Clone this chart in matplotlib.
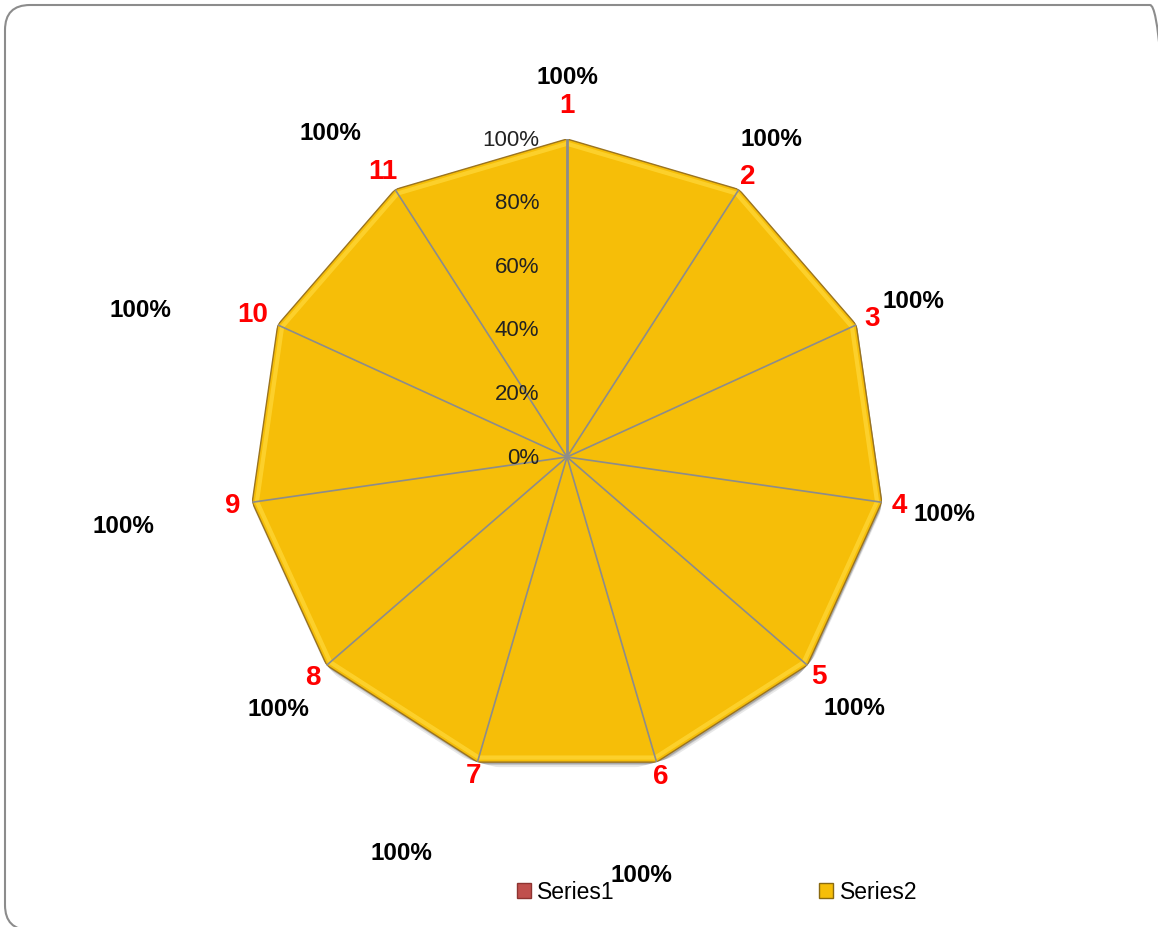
import numpy as np
import matplotlib.pyplot as plt
from matplotlib.patches import Patch, FancyBboxPatch
from matplotlib.transforms import offset_copy, IdentityTransform

# data
categories = ['1', '2', '3', '4', '5', '6', '7', '8', '9', '10', '11']
series1 = [1.0] * 11
series2 = [1.0] * 11
rticks = [0, 0.2, 0.4, 0.6, 0.8, 1.0]
rtick_labels = ['0%', '20%', '40%', '60%', '80%', '100%']

# label layout (Excel put the value labels in odd places)
val_dtheta = [0, -0.1, 0.15, 0.27, 0.2, 6.3, 6.3, -0.1, -0.6, -5.5, -3.4]
val_r = [1.195, 1.191, 1.195, 1.199, 1.20, 1.332, 1.349, 1.204, 1.412, 1.418, 1.264]
cat_r = [1.107, 1.05, 1.056, 1.057, 1.05, 1.045, 1.043, 1.056, 1.063, 1.086, 1.07]

n = len(categories)
theta = np.linspace(0, 2 * np.pi, n, endpoint=False)
th_closed = np.append(theta, theta[0])

fig = plt.figure(figsize=(11.58, 9.28), dpi=100)
ax = fig.add_axes([249 / 1158, 152 / 928, 636 / 1158, 636 / 928], projection='polar')
ax.set_theta_zero_location('N')
ax.set_theta_direction(-1)
ax.set_ylim(0, 1)
ax.grid(False)
ax.spines['polar'].set_visible(False)
ax.set_xticks([])
ax.set_yticks([])
ax.patch.set_alpha(0)

# soft shadow under the area
for k, a in [(5, 0.12), (3, 0.18), (2, 0.25)]:
    shadow = offset_copy(ax.transData, fig=fig, x=1, y=-k, units='dots')
    ax.fill(th_closed, np.append(series2, series2[0]), color='#444444', alpha=a,
            transform=shadow, zorder=1, lw=0)

s1 = np.append(series1, series1[0])
s2 = np.append(series2, series2[0])
ax.fill(th_closed, s1, color='#C0504D', zorder=2, lw=0)
ax.fill(th_closed, s2, facecolor='#F6BE08', edgecolor='#9A7420', lw=1.0, zorder=3)
# bevel highlight
ax.plot(th_closed, s2 * 0.985, color='#FFD93A', lw=3, alpha=0.7, zorder=4)

# spokes
for i, t in enumerate(theta):
    ax.plot([t, t], [0, 1], color='#8C8C8C', lw=2.0 if i == 0 else 1.2, zorder=5)

# radial tick labels
for r, lab in zip(rticks, rtick_labels):
    ax.annotate(lab, xy=(0, r), xytext=(-28, 0), textcoords='offset pixels',
                ha='right', va='center', fontsize=16, color='#222222',
                family='Liberation Sans', zorder=6)

# category labels
for t, lab, r in zip(theta, categories, cat_r):
    ax.text(t, r, lab, ha='center', va='center', fontsize=20, fontweight='bold',
            color='#FF0000', family='Liberation Sans', clip_on=False)

# value labels
for t, v, dt, r in zip(theta, series2, val_dtheta, val_r):
    ax.text(t + np.deg2rad(dt), r, f'{v:.0%}', ha='center', va='center',
            fontsize=17.5, fontweight='bold', color='black',
            family='Liberation Sans', clip_on=False)

handles = [Patch(facecolor='#C0504D', edgecolor='#8E3431', label='Series1'),
           Patch(facecolor='#F6BE08', edgecolor='#8A6A10', label='Series2')]
fig.legend(handles=handles, loc='center', bbox_to_anchor=(717 / 1158, 35 / 928),
           ncol=2, frameon=False, handlelength=0.6, handleheight=0.6,
           handletextpad=0.3, columnspacing=8.9,
           prop={'family': 'Liberation Sans', 'size': 16.5})

# rounded chart border (runs off the right and bottom edges)
border = FancyBboxPatch((5, -3), 1170, 925, boxstyle='round,pad=0,rounding_size=25',
                        transform=IdentityTransform(), facecolor='none',
                        edgecolor='#8C8C8C', lw=1.5)
fig.patches.append(border)

fig.savefig('out.png', dpi=100)
